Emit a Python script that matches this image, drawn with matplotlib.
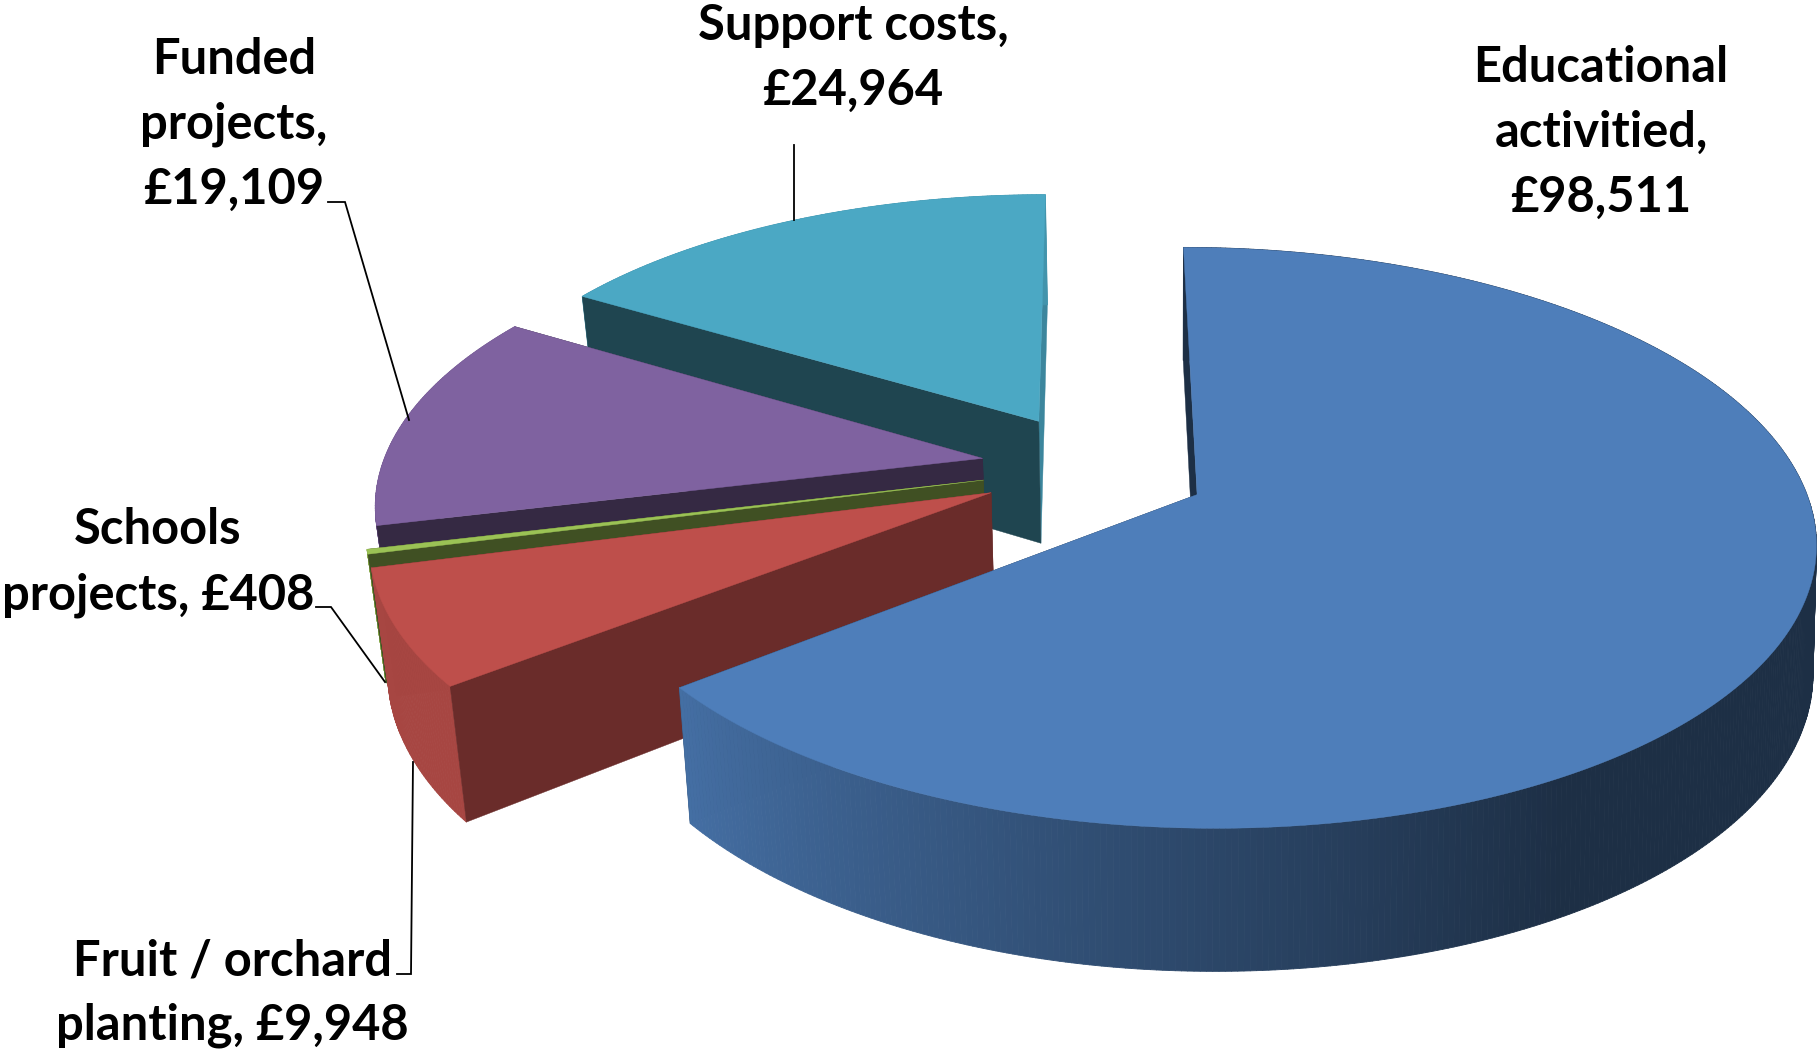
import numpy as np
import matplotlib
matplotlib.use("Agg")
import matplotlib.pyplot as plt
from matplotlib.collections import PolyCollection
from matplotlib.patches import Polygon

categories = ["Educational activitied", "Fruit / orchard planting", "Schools projects", "Funded projects", "Support costs"]
values = [98511, 9948, 408, 19109, 24964]
top_colors = ["#4E7EBA", "#BE4F4B", "#9BC255", "#7F62A0", "#4BA8C4"]

label_lines = [
    ["Educational", "activitied,", "£98,511"],
    ["Fruit / orchard", "planting, £9,948"],
    ["Schools", "projects, £408"],
    ["Funded", "projects,", "£19,109"],
    ["Support costs,", "£24,964"],
]
label_pos = [(1601, 128), (232, 989), (158, 558), (234, 120), (853, 54)]
leaders = [
    None,
    [(397, 974), (411, 974), (413, 762)],
    [(316, 607), (331, 607), (385, 682)],
    [(328, 202), (345, 202), (409, 420)],
    [(794, 145), (794, 220)],
]

# projection settings (image pixels)
OX, OY, A, B, P, EXPLODE = 1092, 473, 606, 279, 0.148, 0.184
FONT_PT, LINE_PX = 35.2, 65
radius_scale = [0.995, 1.0, 1.0, 0.995, 0.98]
nudge_x = [0.006, 0.0, 0.0, 0.0, 0.0]
nudge_y = [-0.004, -0.012, -0.02, -0.025, -0.03]


def project(x, y):
    s = 1 / (1 - P * y)
    return OX + A * x * s, OY + B * y * s


def drop(X, Y):
    X, Y = np.asarray(X, float), np.asarray(Y, float)
    Xc = 1130
    dx = np.where(X < Xc, 0.024 * (Xc - X), -0.005 * (X - Xc))
    dy = 122 + 0.052 * (Y - 423)
    return X + dx, Y + dy


def shade(hex_color, f):
    rgb = np.array(matplotlib.colors.to_rgb(hex_color))
    return tuple(np.clip(rgb * f, 0, 1))


def arc_factor(theta):
    return 0.37 + 0.51 * np.clip((theta - 150) / 82, 0, 1)


fig = plt.figure(figsize=(18.19, 10.49), dpi=100)
ax = fig.add_axes([0, 0, 1, 1])
ax.set_xlim(0, 1819)
ax.set_ylim(1049, 0)
ax.axis("off")

vals = np.array(values, float)
edges = np.concatenate([[0], np.cumsum(vals) / vals.sum() * 360])
radial_dark = [0.37, 0.56, 0.41, 0.42, 0.41]
far_wall = [0.37, 0.56, 0.41, 0.42, 0.80]


def radial_wall(ax_, px, py, X, Y, color, z):
    bx0, by0 = drop(px, py)
    bx1, by1 = drop(X, Y)
    ax_.add_patch(Polygon([(px, py), (X, Y), (bx1, by1), (bx0, by0)],
                          closed=True, fc=color, ec=color, lw=0.3, zorder=z))


z = 1
for i in [4, 3, 2, 1, 0]:
    t0, t1 = edges[i], edges[i + 1]
    mid = np.radians((t0 + t1) / 2)
    cx = EXPLODE * np.sin(mid) + nudge_x[i]
    cy = -EXPLODE * np.cos(mid) + nudge_y[i]
    th = np.linspace(t0, t1, max(8, int((t1 - t0) * 2)))
    r = np.radians(th)
    R = radius_scale[i]
    X, Y = project(cx + R * np.sin(r), cy - R * np.cos(r))
    ax0, ay0 = project(cx, cy)
    base = top_colors[i]
    # far radial wall
    radial_wall(ax, ax0, ay0, X[-1], Y[-1], shade(base, far_wall[i]), z)
    z += 1
    # outer wall as a row of shaded strips
    BX, BY = drop(X, Y)
    quads = [[(X[k], Y[k]), (X[k + 1], Y[k + 1]), (BX[k + 1], BY[k + 1]), (BX[k], BY[k])]
             for k in range(len(th) - 1)]
    cols = [shade(base, arc_factor((th[k] + th[k + 1]) / 2)) for k in range(len(th) - 1)]
    ax.add_collection(PolyCollection(quads, facecolors=cols, edgecolors=cols, linewidths=0.6, zorder=z))
    z += 1
    # near radial wall
    radial_wall(ax, ax0, ay0, X[0], Y[0], shade(base, radial_dark[i]), z)
    z += 1
    # top face
    ax.add_patch(Polygon(np.column_stack([np.r_[ax0, X], np.r_[ay0, Y]]), closed=True,
                         fc=base, ec=base, lw=0.3, zorder=z))
    z += 1

for pts in leaders:
    if pts:
        xs, ys = zip(*pts)
        ax.plot(xs, ys, color="black", lw=1.3, zorder=z, solid_joinstyle="miter")

for lines, (x, y) in zip(label_lines, label_pos):
    for j, line in enumerate(lines):
        ax.text(x, y + (j - (len(lines) - 1) / 2) * LINE_PX, line, ha="center", va="center_baseline",
                fontsize=FONT_PT, fontweight="bold", family="Lato", color="black", zorder=z + 1)

fig.savefig("out.png", dpi=100)
